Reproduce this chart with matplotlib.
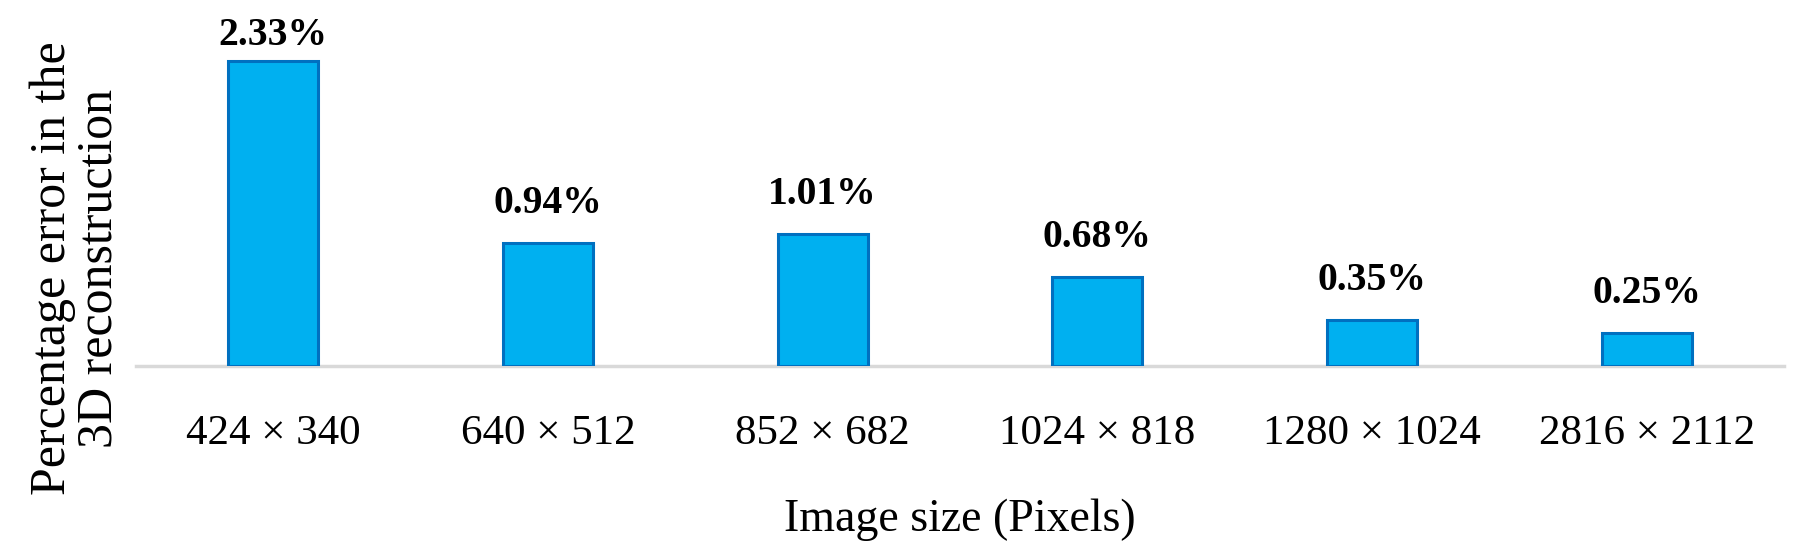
import matplotlib
matplotlib.use("Agg")
import matplotlib.pyplot as plt

categories = ["424 × 340", "640 × 512", "852 × 682", "1024 × 818", "1280 × 1024", "2816 × 2112"]
values = [2.33, 0.94, 1.01, 0.68, 0.35, 0.25]
value_labels = ["2.33%", "0.94%", "1.01%", "0.68%", "0.35%", "0.25%"]

W, H, DPI = 1802, 544, 100
plt.rcParams['font.family'] = ['Liberation Serif', 'DejaVu Serif']

fig = plt.figure(figsize=(W / DPI, H / DPI), dpi=DPI)
base_px = 366
px_per_unit = 130.7
ax = fig.add_axes([135.9 / W, (H - base_px) / H, (1784.1 - 135.9) / W, base_px / H])
ymax = base_px / px_per_unit
x = list(range(len(categories)))
ax.bar(x, values, width=0.328, color="#00B0F0", edgecolor="#0070C0", linewidth=2.2, zorder=2)
ax.set_xlim(-0.5, len(categories) - 0.5)
ax.set_ylim(0, ymax)
ax.set_yticks([])
ax.set_xticks(x)
ax.set_xticklabels(categories, fontsize=31)
ax.tick_params(axis='x', length=0, pad=35)
for s in ["top", "right", "left"]:
    ax.spines[s].set_visible(False)
ax.spines["bottom"].set_color("#D9D9D9")
ax.spines["bottom"].set_linewidth(2.5)
ax.spines["bottom"].set_zorder(1)

# value labels: baseline 30 px above the bar top, kept inside the chart area
gap = 30 / px_per_unit
top_limit = (base_px - 45) / px_per_unit
for xi, v, lab in zip(x, values, value_labels):
    y = min(v + gap, top_limit)
    ax.text(xi, y, lab, ha="center", va="baseline", fontsize=28.5, fontweight="bold", clip_on=False)

fig.text(960 / W, 1 - 531 / H, "Image size (Pixels)", ha="center", va="baseline", fontsize=33)
fig.text(76 / W, 1 - 268 / H, "Percentage error in the\n3D reconstruction", ha="center", va="center",
         rotation=90, fontsize=36, linespacing=1.0, multialignment="center")

fig.savefig("out.png", dpi=DPI)
